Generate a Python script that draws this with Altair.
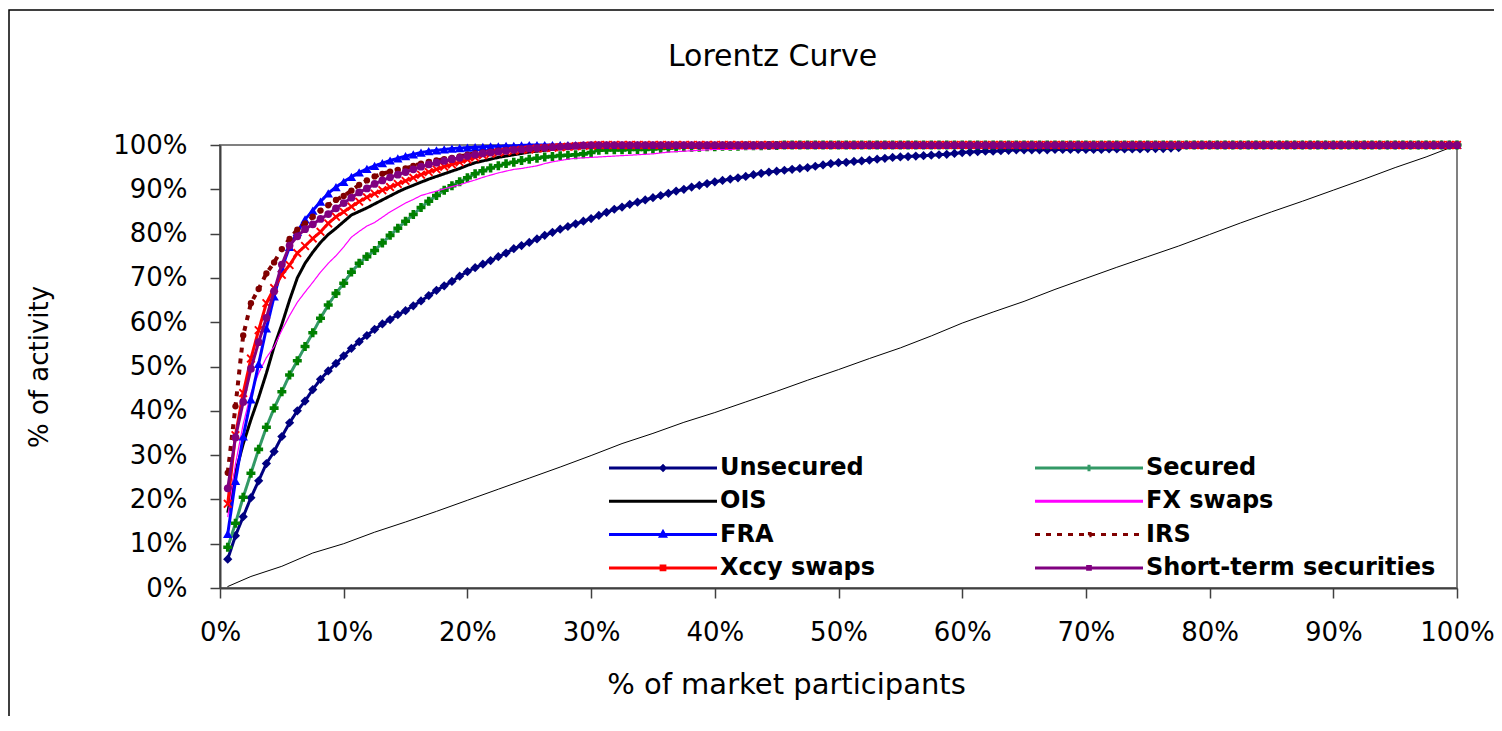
import altair as alt
import pandas as pd

FONT = "DejaVu Sans"
N_PARTICIPANTS = 160

# plotting order (as in the source workbook)
SERIES = ["Unsecured", "Secured", "OIS", "FX swaps", "FRA", "IRS",
          "Xccy swaps", "Short-term securities"]
# legend order (two columns, filled top-down)
LEGEND_ORDER = ["Unsecured", "OIS", "FRA", "Xccy swaps",
                "Secured", "FX swaps", "IRS", "Short-term securities"]
TICKS = [0, 10, 20, 30, 40, 50, 60, 70, 80, 90, 100]

# cumulative % of activity per participant rank
unsecured = [6.5, 11.8, 16.1, 20.4, 24.2, 28.1, 30.8, 34.2, 37.3, 40.0, 42.2, 44.8, 47.1, 49.0, 50.7, 52.4, 54.1,
             55.6, 57.0, 58.4, 59.6, 60.6, 61.7, 62.6, 63.7, 64.8, 66.0, 67.2, 68.2, 69.2, 70.4, 71.4,
             72.3, 73.1, 73.9, 74.8, 75.6, 76.6, 77.3, 78.0, 78.8, 79.6, 80.3, 81.0, 81.6, 82.2, 82.8, 83.4,
             84.1, 84.8, 85.5, 86.0, 86.6, 87.1, 87.6, 88.1, 88.6, 89.1, 89.6, 90.0, 90.5, 90.9, 91.3, 91.7,
             92.0, 92.3, 92.6, 92.9, 93.3, 93.6, 93.9, 94.1, 94.3, 94.5, 94.7, 94.9, 95.2, 95.5, 95.8, 96.0,
             96.1, 96.3, 96.4, 96.6, 96.8, 97.0, 97.2, 97.3, 97.4, 97.5, 97.6, 97.7, 97.8, 97.9, 98.1, 98.3,
             98.4, 98.5, 98.6, 98.6, 98.7, 98.8, 98.9, 98.9, 98.9, 98.9, 98.9, 99.0, 99.0, 99.0, 99.0, 99.0,
             99.0, 99.0, 99.1, 99.1, 99.1, 99.1, 99.1, 99.2, 99.2, 99.2, 99.3, 99.4]
secured = [9.2, 14.6, 20.5, 25.9, 31.3, 36.3, 40.6, 44.3, 48.1, 51.3, 54.5, 57.6, 60.9, 63.9, 66.5, 68.8, 71.3,
           73.3, 74.8, 76.2, 77.9, 79.6, 81.2, 82.8, 84.3, 85.9, 87.3, 88.6, 89.8, 90.8, 91.7, 92.6,
           93.5, 94.2, 94.8, 95.3, 95.8, 96.1, 96.5, 96.8, 97.0, 97.3, 97.4, 97.6, 97.7, 97.8, 98.0, 98.3,
           98.8, 98.9, 98.9, 98.9, 99.0, 99.0, 99.0, 99.1, 99.2, 99.3, 99.4, 99.5, 99.5, 99.5, 99.6, 99.6,
           99.7, 99.7, 99.7, 99.8, 99.8, 99.8, 99.9, 99.9]
ois = [17.0, 26.0, 32.5, 38.0, 43.0, 48.5, 54.5, 59.5, 65.0, 70.0, 73.3, 75.8, 78.0, 79.8, 81.2, 82.7, 84.2,
       85.0, 85.8, 86.7, 87.6, 88.5, 89.4, 90.2, 90.9, 91.6, 92.3, 92.9, 93.5, 94.1, 94.7, 95.4,
       96.0, 96.4, 96.8, 97.2, 97.5, 97.8, 98.1, 98.4, 98.6, 98.8, 99.0, 99.2, 99.4, 99.5, 99.7, 99.8,
       99.9, 99.9]
fx_swaps = [16.0, 28.0, 37.0, 44.0, 48.5, 52.0, 54.5, 58.2, 61.5, 64.5, 66.8, 69.0, 71.3, 73.3, 75.0, 77.0, 79.2,
            80.5, 81.7, 82.5, 83.7, 84.9, 85.9, 86.9, 87.7, 88.6, 89.1, 89.6, 90.1, 90.6, 91.0, 91.6,
            92.1, 92.7, 93.2, 93.7, 94.1, 94.5, 94.7, 95.0, 95.3, 95.8, 96.2, 96.5, 96.8, 97.0, 97.1, 97.2,
            97.3, 97.4, 97.5, 97.6, 97.7, 97.8, 97.9, 98.0, 98.2, 98.4, 98.5, 98.6, 98.7, 98.8, 98.9, 99.0,
            99.0, 99.0, 99.1, 99.1, 99.1, 99.2, 99.2, 99.2, 99.3, 99.3, 99.4, 99.4, 99.5]
fra = [12.2, 24.2, 34.2, 42.6, 50.6, 58.6, 65.8, 72.2, 77.0, 80.4, 83.2, 85.2, 87.2, 89.1, 90.5, 91.7, 92.8,
       93.8, 94.6, 95.3, 95.9, 96.5, 97.0, 97.5, 97.9, 98.3, 98.6, 98.8, 99.0, 99.2, 99.3, 99.4, 99.5,
       99.6, 99.7, 99.7, 99.8, 99.8, 99.9]
irs = [26.0, 41.0, 57.0, 64.3, 67.5, 71.0, 73.5, 76.5, 78.8, 80.9, 82.3, 83.8, 85.2, 86.4, 87.6, 88.5, 89.7,
       91.0, 92.0, 92.9, 93.5, 94.0, 94.4, 94.7, 95.3, 95.8, 96.2, 96.5, 96.8, 97.1, 97.4, 97.8, 98.1,
       98.3, 98.5, 98.7, 98.9, 99.0, 99.2, 99.3, 99.4, 99.5, 99.6, 99.7, 99.8, 99.8, 99.9]
xccy_swaps = [19.0, 34.5, 44.0, 51.8, 58.2, 64.3, 67.7, 70.7, 72.9, 75.6, 77.2, 78.9, 80.4, 82.3, 83.8, 84.9, 86.1,
              87.2, 88.2, 89.0, 89.8, 90.5, 91.2, 91.9, 92.6, 93.3, 93.9, 94.5, 95.1, 95.6, 96.1, 96.7, 97.2,
              97.7, 98.0, 98.3, 98.5, 98.7, 98.9, 99.0, 99.2, 99.3, 99.4, 99.5, 99.6, 99.7, 99.8, 99.9]
short_term = [22.5, 34.0, 42.0, 49.5, 55.5, 61.0, 67.0, 73.0, 77.3, 79.4, 81.0, 82.1, 83.3, 84.4, 85.7, 86.9, 88.1,
              89.3, 90.2, 91.2, 92.0, 92.7, 93.3, 93.9, 94.5, 95.1, 95.6, 96.0, 96.4, 96.8, 97.1, 97.5, 97.8,
              98.1, 98.3, 98.5, 98.7, 98.9, 99.0, 99.2, 99.3, 99.4, 99.5, 99.6, 99.7, 99.8, 99.9]

# thin reference line (close to the equality diagonal)
diag_x = [0.6, 2.5, 5, 7.5, 10, 12.5, 15, 17.5, 20, 22.5, 25, 27.5, 30, 32.5, 35, 37.5, 40, 42.5, 45, 47.5,
          50, 52.5, 55, 57.5, 60, 62.5, 65, 67.5, 70, 72.5, 75, 77.5, 80, 82.5, 85, 87.5, 90, 92.5, 95, 97.5, 100]
diag_y = [0.3, 2.6, 4.9, 7.9, 10.0, 12.6, 14.9, 17.3, 19.8, 22.3, 24.8, 27.3, 29.9, 32.6, 34.9, 37.4, 39.6, 42.0,
          44.4, 46.9, 49.3, 51.8, 54.2, 56.9, 59.8, 62.3, 64.7, 67.4, 69.9, 72.4, 74.8, 77.2, 79.8, 82.4, 84.9,
          87.3, 89.8, 92.3, 94.9, 97.3, 100]

CURVES = {"Unsecured": unsecured, "Secured": secured, "OIS": ois, "FX swaps": fx_swaps,
          "FRA": fra, "IRS": irs, "Xccy swaps": xccy_swaps, "Short-term securities": short_term}

# styles keyed by series
LINE_COLOR = {"Unsecured": "#000080", "Secured": "#339966", "OIS": "#000000", "FX swaps": "#FF00FF",
              "FRA": "#0000FF", "IRS": "#800000", "Xccy swaps": "#FF0000", "Short-term securities": "#800080"}
LINE_WIDTH = {"Unsecured": 3, "Secured": 3, "OIS": 3, "FX swaps": 1.2,
              "FRA": 3, "IRS": 4, "Xccy swaps": 3, "Short-term securities": 3}
LINE_DASH = {"Unsecured": [1, 0], "Secured": [1, 0], "OIS": [1, 0], "FX swaps": [1, 0],
             "FRA": [1, 0], "IRS": [5, 6], "Xccy swaps": [1, 0], "Short-term securities": [1, 0]}
XPATH = "M-1,-0.7L-0.7,-1L0,-0.3L0.7,-1L1,-0.7L0.3,0L1,0.7L0.7,1L0,0.3L-0.7,1L-1,0.7L-0.3,0Z"
MARKERS = {  # shape, fill, size
    "Unsecured": ("diamond", "#000080", 85),
    "Secured": ("cross", "#008000", 80),
    "FRA": ("triangle-up", "#0000FF", 90),
    "IRS": ("circle", "#800000", 40),
    "Xccy swaps": (XPATH, "#FF0000", 80),
    "Short-term securities": ("circle", "#800080", 60),
}
# legend symbols: a line sample with a small marker in its middle (unit coordinates)
LEGEND_SYMBOL = {
    "Unsecured": "M-1,0H1M0,-0.04L0.04,0L0,0.04L-0.04,0Z",
    "OIS": "M-1,0H1",
    "FRA": "M-1,0H1M0,-0.05L0.045,0.03L-0.045,0.03Z",
    "Xccy swaps": "M-1,0H1M-0.035,-0.035H0.035V0.035H-0.035Z",
    "Secured": "M-1,0H1M0,-0.06V0.06",
    "FX swaps": "M-1,0H1",
    "IRS": "M-1,0H1M-0.02,-0.02H0.02V0.02H-0.02Z",
    "Short-term securities": "M-1,0H1M-0.025,-0.025H0.025V0.025H-0.025Z",
}

rows = []
for name in SERIES:
    vals = CURVES[name]
    for i in range(1, N_PARTICIPANTS + 1):
        yv = vals[i - 1] if i <= len(vals) else 100.0
        rows.append({"series": name, "x": i * 100.0 / N_PARTICIPANTS, "y": yv})
df = pd.DataFrame(rows)
diag_df = pd.DataFrame({"x": diag_x, "y": diag_y})

x_axis = alt.Axis(values=TICKS, labelExpr="datum.value + '%'", grid=False,
                  title="% of market participants", tickSize=10, tickColor="#404040", tickWidth=1.5,
                  domainColor="#404040", domainWidth=2, labelFont=FONT, labelFontSize=26,
                  labelColor="#000000", labelPadding=21, labelFlush=False, labelOverlap=False,
                  titleFont=FONT, titleFontSize=29, titleFontWeight="normal", titleColor="#000000",
                  titleX=566, titleY=105, titleBaseline="alphabetic")
y_axis = alt.Axis(values=TICKS, labelExpr="datum.value + '%'", grid=False,
                  title="% of activity", tickSize=10, tickColor="#404040", tickWidth=1.5,
                  domainColor="#404040", domainWidth=2, labelFont=FONT, labelFontSize=26,
                  labelColor="#000000", labelPadding=23, labelFlush=False, labelOverlap=False,
                  titleFont=FONT, titleFontSize=26, titleFontWeight="normal", titleColor="#000000",
                  titleX=-173, titleY=221.5, titleBaseline="alphabetic")

x_enc = alt.X("x:Q", scale=alt.Scale(domain=[0, 100], nice=False), axis=x_axis)
y_enc = alt.Y("y:Q", scale=alt.Scale(domain=[0, 100], nice=False), axis=y_axis)

legend = alt.Legend(title=None, orient="none", legendX=387.5, legendY=311, columns=2,
                    columnPadding=158, rowPadding=9.3, clipHeight=24,
                    symbolType="stroke", symbolSize=11664, symbolStrokeWidth=3,
                    labelFont=FONT, labelFontSize=24, labelFontWeight="bold",
                    labelColor="#000000", labelOffset=1.5, labelLimit=600, padding=0)

color_enc = alt.Color("series:N", legend=legend,
                      scale=alt.Scale(domain=LEGEND_ORDER, range=[LINE_COLOR[s] for s in LEGEND_ORDER]))
dash_enc = alt.StrokeDash("series:N", legend=legend,
                          scale=alt.Scale(domain=LEGEND_ORDER, range=[LINE_DASH[s] for s in LEGEND_ORDER]))
shape_enc = alt.Shape("series:N", legend=legend,
                      scale=alt.Scale(domain=LEGEND_ORDER, range=[LEGEND_SYMBOL[s] for s in LEGEND_ORDER]))

frame = alt.Chart(alt.Data(values=[{"frame": 1}])).mark_rect(
    fill="transparent", stroke="#000000", strokeWidth=1.5
).encode(x=alt.value(-211), x2=alt.value(1290), y=alt.value(-135), y2=alt.value(600))

diag = alt.Chart(diag_df).mark_line(color="#000000", strokeWidth=1).encode(x=x_enc, y=y_enc)

layers = [frame, diag]
for name in SERIES:
    layers.append(
        alt.Chart().mark_line(strokeWidth=LINE_WIDTH[name]).encode(
            x=x_enc, y=y_enc, color=color_enc, strokeDash=dash_enc
        ).transform_filter(alt.datum.series == name)
    )
    if name in MARKERS:
        shp, fil, sz = MARKERS[name]
        layers.append(
            alt.Chart().mark_point(filled=True, opacity=1, strokeWidth=0, shape=shp, fill=fil, size=sz).encode(
                x=x_enc, y=y_enc
            ).transform_filter(alt.datum.series == name)
        )

# legend-only layer (no rows pass the filter): gives the legend its marker symbols
legend_layer = alt.Chart().mark_point(filled=False, opacity=1, strokeWidth=2.5).encode(
    x=x_enc, y=y_enc, color=color_enc, strokeDash=dash_enc, shape=shape_enc
).transform_filter(alt.datum.x < 0)
layers.append(legend_layer)

chart = alt.layer(*layers, data=df).properties(
    width=1237, height=443,
    title=alt.TitleParams(text="Lorentz Curve", font=FONT, fontSize=30, fontWeight="normal",
                          color="#000000", anchor="middle", frame="group", dx=-66, dy=62.6, offset=0),
    padding={"left": 212, "top": 137, "right": 37, "bottom": 128},
    autosize=alt.AutoSizeParams(type="none"),
).configure(font=FONT).configure_view(stroke="#808080", strokeWidth=2)

chart.save("out.html", embed_options={"renderer": "svg", "actions": False})
